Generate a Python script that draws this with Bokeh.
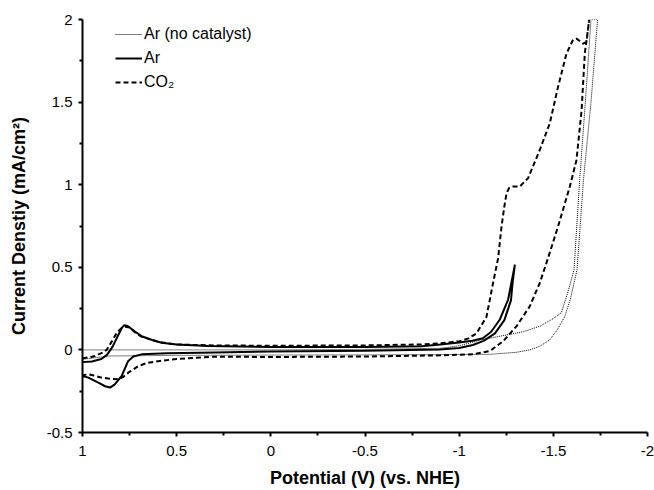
from bokeh.plotting import figure
from bokeh.models import Range1d, FixedTicker, Legend, LegendItem
from bokeh.embed import file_html
from bokeh.resources import INLINE

# Ar (no catalyst) - dotted
ar_nc_x = [1.0, 0.5, 0.0, -0.5, -0.9, -1.0, -1.125, -1.25, -1.34, -1.43, -1.5, -1.543, -1.565, -1.59, -1.61, -1.64, -1.67, -1.70,
           -1.735, -1.70, -1.66, -1.626, -1.59, -1.56, -1.52, -1.48, -1.43, -1.375, -1.3, -1.16, -0.5, 0.5, 0.86, 1.0]
ar_nc_y = [0.0, 0.0, 0.0, 0.003, 0.01, 0.025, 0.063, 0.09, 0.11, 0.144, 0.19, 0.226, 0.305, 0.4, 0.486, 1.03, 1.5, 2.0,
           2.0, 1.5, 1.03, 0.486, 0.305, 0.2, 0.12, 0.06, 0.023, 0.0, -0.015, -0.027, -0.03, -0.033, -0.037, -0.057]

# Ar - solid
ar_x = [1.0, 0.95, 0.9, 0.87, 0.84, 0.81, 0.79, 0.778, 0.76, 0.72, 0.686, 0.63, 0.58, 0.5, 0.334, 0.0, -0.5, -0.8, -0.9,
        -1.0, -1.07, -1.126, -1.17, -1.216, -1.26, -1.296,
        -1.285, -1.275, -1.24, -1.19, -1.13, -1.073, -1.0, -0.897, -0.5, 0.0, 0.297, 0.55, 0.686, 0.73, 0.758, 0.792,
        0.83, 0.854, 0.88, 0.916, 0.969, 1.0]
ar_y = [-0.074, -0.07, -0.055, -0.03, 0.02, 0.09, 0.135, 0.15, 0.145, 0.11, 0.083, 0.06, 0.043, 0.032, 0.023, 0.017, 0.017, 0.022, 0.033,
        0.045, 0.055, 0.07, 0.11, 0.184, 0.305, 0.516,
        0.42, 0.30, 0.18, 0.10, 0.055, 0.03, 0.012, 0.003, -0.005, -0.01, -0.015, -0.02, -0.027, -0.04, -0.068, -0.158,
        -0.21, -0.228, -0.22, -0.198, -0.168, -0.158]

# CO2 - dashed
co2_x = [1.0, 0.96, 0.934, 0.9, 0.872, 0.845, 0.818, 0.795, 0.774, 0.75, 0.72, 0.686, 0.6, 0.51, 0.3, 0.0, -0.5, -0.8, -0.9,
         -1.004, -1.05, -1.092, -1.145, -1.18, -1.207, -1.225, -1.24, -1.252, -1.265, -1.287, -1.322, -1.366, -1.428, -1.481,
         -1.525, -1.57, -1.605, -1.623, -1.64, -1.658, -1.676, -1.685, -1.69,
         -1.685, -1.667, -1.65, -1.623, -1.588, -1.525, -1.472, -1.428, -1.375, -1.305, -1.234, -1.163, -1.074, -0.897, -0.5,
         0.0, 0.297, 0.5, 0.598, 0.66, 0.704, 0.757, 0.785, 0.81, 0.85, 0.898, 0.94, 0.969, 1.0]
co2_y = [-0.05, -0.045, -0.037, -0.02, 0.0, 0.05, 0.104, 0.13, 0.14, 0.135, 0.105, 0.08, 0.05, 0.033, 0.027, 0.025, 0.027, 0.033, 0.04,
         0.053, 0.07, 0.10, 0.20, 0.405, 0.556, 0.747, 0.87, 0.949, 0.98, 0.989, 0.989, 1.04, 1.21, 1.371,
         1.592, 1.794, 1.878, 1.884, 1.87, 1.854, 1.864, 1.95, 2.0,
         1.95, 1.794, 1.45, 1.15, 0.99, 0.747, 0.556, 0.405, 0.264, 0.144, 0.053, -0.007, -0.027, -0.033, -0.04,
         -0.043, -0.041, -0.055, -0.068, -0.08, -0.098, -0.138, -0.165, -0.178, -0.175, -0.168, -0.155, -0.148, -0.153]

x_ticks = [1, 0.5, 0, -0.5, -1, -1.5, -2]
x_tick_labels = ["1", "0.5", "0", "-0.5", "-1", "-1.5", "-2"]
y_ticks = [-0.5, 0, 0.5, 1, 1.5, 2]
y_tick_labels = ["-0.5", "0", "0.5", "1", "1.5", "2"]
series_names = ["Ar (no catalyst)", "Ar", "CO\u2082"]

FONT = "Liberation Sans"

p = figure(width=654, height=490, output_backend="svg", toolbar_location=None,
           x_range=Range1d(1, -2), y_range=Range1d(-0.5, 2),
           min_border_left=82, min_border_right=7, min_border_top=19, min_border_bottom=57)
p.outline_line_color = None
p.xgrid.visible = False
p.ygrid.visible = False
p.background_fill_color = "white"

r1 = p.line(ar_nc_x, ar_nc_y, line_color="black", line_width=1, line_dash="1 1")
r2 = p.line(ar_x, ar_y, line_color="black", line_width=2)
r3 = p.line(co2_x, co2_y, line_color="black", line_width=2, line_dash="5 3")

for ax, ticks, labels in ((p.xaxis[0], x_ticks, x_tick_labels), (p.yaxis[0], y_ticks, y_tick_labels)):
    minor = []
    for i in range(len(ticks) - 1):
        minor.append((ticks[i] + ticks[i + 1]) / 2)
    ax.ticker = FixedTicker(ticks=ticks, minor_ticks=minor)
    ax.major_label_overrides = {t: l for t, l in zip(ticks, labels)}
    ax.axis_line_width = 2
    ax.axis_line_color = "black"
    ax.major_tick_line_width = 2
    ax.minor_tick_line_width = 2
    ax.major_tick_out = 4
    ax.major_tick_in = 0
    ax.minor_tick_out = 3
    ax.minor_tick_in = 0
    ax.major_label_text_font = FONT
    ax.major_label_text_font_size = "15px"
    ax.major_label_text_color = "black"
    ax.axis_label_text_font = FONT
    ax.axis_label_text_font_size = "18px"
    ax.axis_label_text_font_style = "bold"
    ax.axis_label_text_color = "black"

p.xaxis.axis_label = "Potential (V) (vs. NHE)"
p.yaxis.axis_label = "Current Denstiy (mA/cm\u00b2)"
p.xaxis.major_label_standoff = 9
p.yaxis.major_label_standoff = 6
p.xaxis.axis_label_standoff = 9
p.yaxis.axis_label_standoff = 15

legend = Legend(items=[LegendItem(label=series_names[0], renderers=[r1]),
                       LegendItem(label=series_names[1], renderers=[r2]),
                       LegendItem(label=series_names[2], renderers=[r3])],
                location=(33, 340), border_line_color=None, background_fill_alpha=0,
                padding=0, margin=0, spacing=4, glyph_width=27, glyph_height=20,
                label_height=20, label_standoff=2,
                label_text_font=FONT, label_text_font_size="16px", label_text_color="black")
p.add_layout(legend)

open("out.html", "w").write(file_html(p, INLINE))
